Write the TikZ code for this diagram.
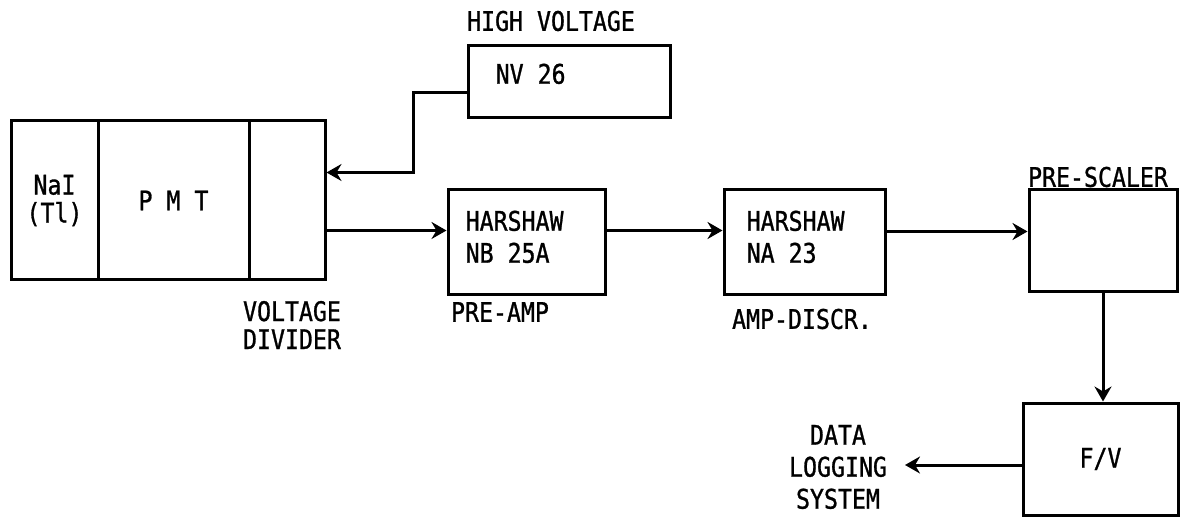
\documentclass[tikz,border=0pt]{standalone}
\usepackage{fontspec}
\newfontfamily\tw[FakeStretch=0.86, FakeBold=1]{DejaVu Sans Mono}
\usepackage{tikz}
\usetikzlibrary{arrows.meta,positioning,calc}

\begin{document}
\begin{tikzpicture}[
  x=1pt, y=-1pt,
  blk/.style={draw, line width=3pt, inner sep=0pt},
  intext/.style={anchor=north west, inner sep=0pt, align=left, font=\tw\fontsize{27}{32}\selectfont},
  lbl/.style={inner sep=0pt, align=center, font=\tw\fontsize{27}{28}\selectfont},
  arr/.style={line width=3pt, -{Stealth[length=15pt,width=17pt,inset=5pt]}}
]
\useasboundingbox (0,0) rectangle (1183,518);

% ======= Detector =======
\node[blk, minimum width=87, minimum height=159, font=\tw\fontsize{27}{28}\selectfont, align=center] (nai) at (54.5,200.5) {NaI\\(Tl)};
\node[blk, minimum width=151, minimum height=159, font=\tw\fontsize{27}{28}\selectfont] (pmt) at (173.5,200.5) {P M T};
\node[blk, minimum width=76, minimum height=159] (vdiv) at (287,200.5) {};
\node[lbl] (vdivlbl) at (292,325) {VOLTAGE\\DIVIDER};

% ======= High voltage =======
\node[blk, minimum width=202, minimum height=72,
      label={[intext, xshift=29pt, yshift=-19pt]north west:NV 26}] (hv) at (569,82) {};
\node[lbl] (hvlbl) at (551,21) {HIGH VOLTAGE};

% ======= Electronics chain =======
\node[blk, minimum width=157, minimum height=105,
      label={[intext, xshift=19pt, yshift=-22pt]north west:HARSHAW\\NB 25A}] (nb) at (526.5,242.5) {};
\node[lbl] (nblbl) at (500,312) {PRE-AMP};

\node[blk, minimum width=161, minimum height=105,
      label={[intext, xshift=24pt, yshift=-22pt]north west:HARSHAW\\NA 23}] (na) at (804.5,242.5) {};
\node[lbl] (nalbl) at (802,319) {AMP-DISCR.};

\node[blk, minimum width=148, minimum height=102] (ps) at (1103,241) {};
\node[lbl] (pslbl) at (1098,177) {PRE-SCALER};

\node[blk, minimum width=155, minimum height=112, font=\tw\fontsize{27}{28}\selectfont] (fv) at (1100.5,459) {F/V};
\node[lbl, font=\tw\fontsize{27}{32}\selectfont] (dls) at (838,467) {DATA\\LOGGING\\SYSTEM};

% ======= Connections =======
\coordinate (pmtout) at ([yshift=-30pt]vdiv.east);
\draw[arr] ([yshift=-11pt]hv.west) -- ++(-53,0) |- ([yshift=28pt]vdiv.east);
\draw[arr] (pmtout) -- (pmtout -| nb.west);
\draw[arr] (pmtout -| nb.east) -- (pmtout -| na.west);
\draw[arr] ([yshift=-1pt]pmtout -| na.east) -- ([yshift=-1pt]pmtout -| ps.west);
\draw[arr] (ps.south) -- (ps.south |- fv.north);
\draw[arr] (fv.west |- 0,465) -- (905,465);

\end{tikzpicture}
\end{document}
